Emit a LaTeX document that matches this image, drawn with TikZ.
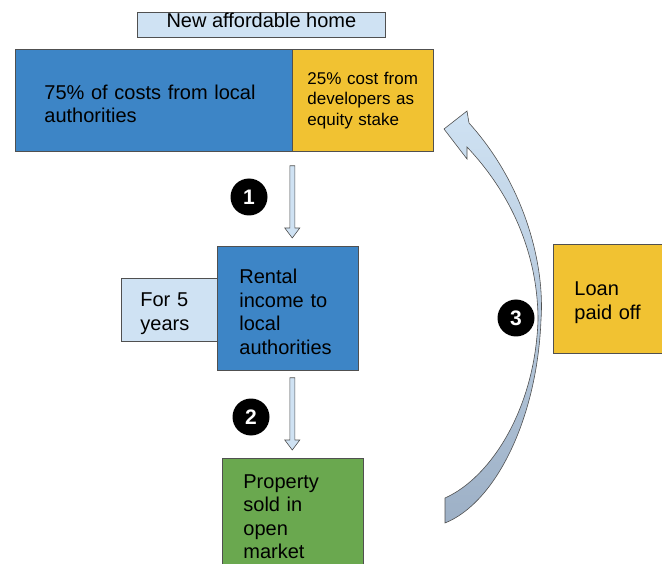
\documentclass[tikz,border=0pt]{standalone}
\usepackage{fontspec}
\setmainfont{Liberation Sans}
\usetikzlibrary{calc}

\definecolor{boxblue}{HTML}{3D85C6}
\definecolor{boxyellow}{HTML}{F1C232}
\definecolor{boxgreen}{HTML}{6AA84F}
\definecolor{paleblue}{HTML}{CFE2F3}
\definecolor{dustyblue}{HTML}{9DB0C6}
\definecolor{edgegray}{HTML}{505050}

\tikzset{
  card/.style={draw=edgegray, line width=0.8pt, anchor=north west, align=left,
    inner ysep=0pt, font=\fontsize{20}{23.5}\selectfont},
  lowcard/.style={card, execute at begin node=\rule{0pt}{21.5pt}},
  stepnum/.style={circle, fill=black, text=white, minimum size=37pt, inner sep=0pt,
    font=\fontsize{21}{21}\selectfont\bfseries},
  blockarrow/.style={draw=edgegray, fill=paleblue, line width=0.6pt,
    to path={let \p1=(\tikztostart), \p2=(\tikztotarget) in
      (\x1-2.5pt,\y1) -- (\x1+2.5pt,\y1) -- (\x1+2.5pt,\y2+10pt) -- (\x1+7.5pt,\y2+10pt)
      -- (\x1,\y2) -- (\x1-7.5pt,\y2+10pt) -- (\x1-2.5pt,\y2+10pt) -- cycle}}
}

\begin{document}
\begin{tikzpicture}[x=1pt,y=-1pt]
\useasboundingbox (0,0) rectangle (662,564);

\node[card, fill=paleblue, minimum width=248pt, minimum height=25pt, text height=15pt,
  text depth=10pt, inner xsep=0pt, align=center] (title) at (137,12) {New affordable home};

\node[lowcard, fill=boxblue, minimum height=102pt, inner xsep=29pt, text width=219pt]
  (cost75) at (15,49) {75\% of costs from local\\authorities};
\node[card, fill=boxyellow, minimum height=102pt, inner xsep=15pt, text width=111pt,
  font=\fontsize{17}{20.5}\selectfont] (cost25) at (292,49) {25\% cost from\\developers as\\equity stake};

\node[lowcard, fill=paleblue, minimum height=63pt, inner xsep=19pt, text width=58pt]
  (years) at (121,278) {For 5\\years};
\node[lowcard, fill=boxblue, minimum height=124pt, inner xsep=22pt, text width=97pt]
  (rent) at (217,246) {Rental\\income to\\local\\authorities};
\node[lowcard, fill=boxgreen, minimum height=109pt, inner xsep=21pt, text width=99pt]
  (prop) at (222,458) {Property\\sold in\\open\\market};
\node[lowcard, fill=boxyellow, minimum height=109pt, inner xsep=21pt, text width=80pt]
  (loan) at (553,244) {Loan\\paid off};

% step arrows
\coordinate (a1s) at ([shift={(-0.5,14)}]cost75.south east);
\coordinate (a1e) at ([yshift=8pt]a1s |- rent.north);
\coordinate (a2s) at ([yshift=-7pt]a1s |- rent.south);
\coordinate (a2e) at ([yshift=8pt]a1s |- prop.north);
\draw[blockarrow] (a1s) to (a1e);
\draw[blockarrow] (a2s) to (a2e);

% curved arrow back to the developers
\draw[draw=edgegray, line width=0.6pt, top color=paleblue, bottom color=dustyblue]
  (444,129) -- (467,111) -- (469,123)
  .. controls (525,185) and (545,265) .. (541,320)
  .. controls (537,420) and (495,503) .. (445,523)
  -- (445,498)
  .. controls (490,478) and (535,410) .. (538,320)
  .. controls (538,262) and (517,200) .. (467,147)
  -- (467,159) -- cycle;

\node[stepnum] (one) at (249,197) {1};
\node[stepnum] (two) at (251,417) {2};
\node[stepnum] (three) at (516,318) {3};
\end{tikzpicture}
\end{document}
